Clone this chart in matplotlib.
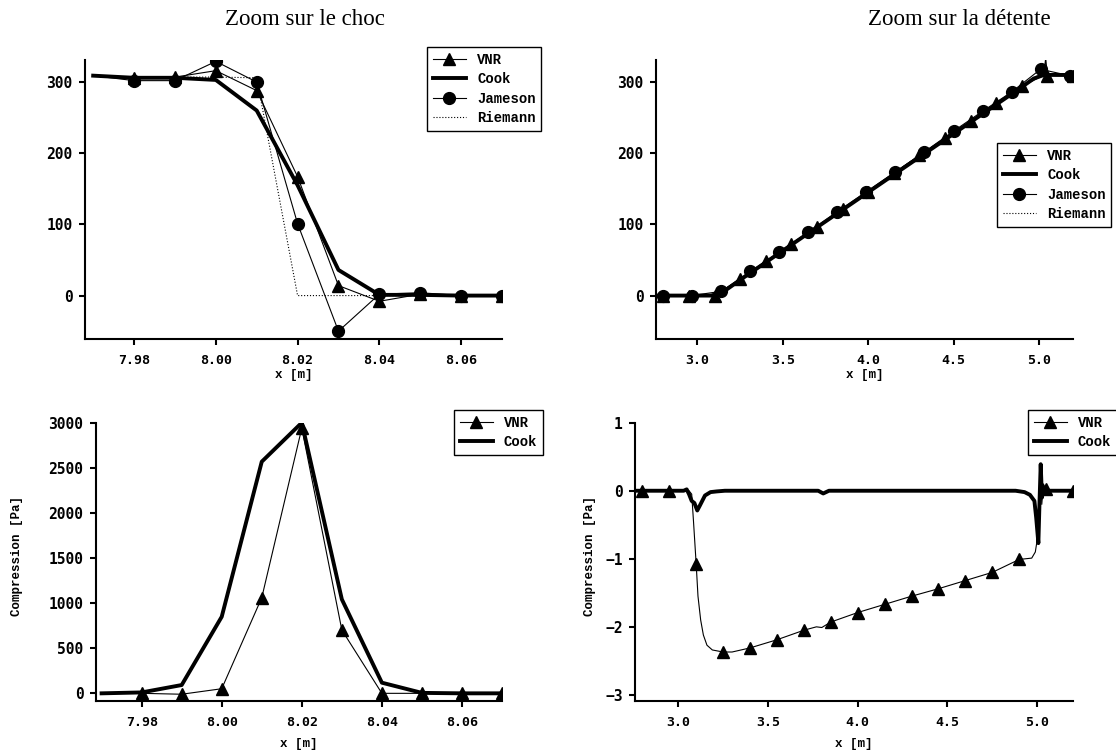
import matplotlib
matplotlib.use("Agg")
import matplotlib.pyplot as plt

# --- Zoom sur le choc : vitesse ---
x_choc = [7.97, 7.98, 7.99, 8.00, 8.01, 8.02, 8.03, 8.04, 8.05, 8.06, 8.07]
vnr_choc = [309, 306, 307, 316, 288, 167, 14, -8, 2, 0, 0]
cook_choc = [309, 306, 306, 303, 260, 155, 36, 1, 1, 0, 0]
jameson_choc = [309, 302, 302, 329, 300, 101, -50, 2, 4, 0, 0]
riemann_choc = [308, 307, 307, 307, 306, 0, 0, 0, 0, 0, 0]

# --- Zoom sur la detente : vitesse ---
x_vnr_det = [2.76, 2.80, 2.95, 3.10, 3.25, 3.40, 3.55, 3.70, 3.85, 4.00, 4.15, 4.30,
             4.45, 4.60, 4.75, 4.90, 5.00, 5.03, 5.04, 5.05, 5.07, 5.10, 5.20]
vnr_det = [0, 0, 0, 0, 23, 48, 73, 97, 121, 146, 172, 197,
           221, 245, 270, 294, 306, 312, 334, 308, 310, 309, 309]
vnr_det_marks = [1, 2, 3, 4, 5, 6, 7, 8, 9, 10, 11, 12, 13, 14, 15, 19, 22]
x_cook_det = [2.76, 3.08, 3.15, 3.25, 4.90, 4.97, 5.03, 5.20]
cook_det = [0, 0, 5, 22, 293, 305, 310, 310]
x_jam_det = [2.76, 2.80, 2.965, 3.14, 3.31, 3.48, 3.65, 3.82, 3.99, 4.16, 4.33,
             4.50, 4.67, 4.84, 5.01, 5.18, 5.20]
jameson_det = [0, 0, 0, 6, 34, 61, 89, 118, 146, 174, 202,
               231, 259, 286, 318, 309, 309]
x_riem_det = [2.76, 3.11, 5.00, 5.20]
riemann_det = [0, 0, 310, 310]

# --- Compression, choc ---
vnr_comp_choc = [0, 0, -10, 51, 1060, 2940, 702, 0, 0, 0, 0]
cook_comp_choc = [0, 10, 92, 849, 2568, 3000, 1042, 118, 5, 0, 0]

# --- Compression, detente ---
x_vnr_comp = [2.76, 2.80, 2.95, 3.06, 3.075, 3.085, 3.10, 3.11, 3.125, 3.14, 3.16, 3.19,
              3.25, 3.30, 3.40, 3.55, 3.70, 3.77, 3.80, 3.85, 4.00, 4.15, 4.30, 4.45,
              4.60, 4.75, 4.90, 4.97, 4.99, 5.00, 5.01, 5.018, 5.026, 5.035, 5.05, 5.08, 5.20]
vnr_comp = [0, 0, 0, 0, -0.05, -0.45, -1.08, -1.55, -1.90, -2.12, -2.27, -2.34,
            -2.37, -2.37, -2.31, -2.19, -2.05, -2.00, -2.01, -1.93, -1.79, -1.67, -1.55, -1.44,
            -1.32, -1.20, -1.01, -0.99, -0.90, -0.73, -0.30, 0.39, -0.20, 0.10, 0.02, 0, 0]
vnr_comp_marks = [1, 2, 6, 12, 14, 15, 16, 19, 20, 21, 22, 23, 24, 25, 26, 34, 36]
x_cook_comp = [2.76, 3.03, 3.047, 3.06, 3.075, 3.09, 3.106, 3.12, 3.149, 3.18, 3.214, 3.26,
               3.78, 3.808, 3.84, 4.88, 4.93, 4.96, 4.985, 4.995, 5.007, 5.013, 5.02,
               5.027, 5.035, 5.05, 5.20]
cook_comp = [0, 0, 0.02, -0.05, -0.15, -0.18, -0.29, -0.22, -0.07, -0.02, -0.01, 0,
             0, -0.04, 0, 0, -0.02, -0.06, -0.15, -0.40, -0.77, -0.20, 0.39,
             -0.10, 0.05, 0, 0]

mono = "Liberation Mono"
tickfont = "DejaVu Sans Mono"

fig = plt.figure(figsize=(11.16, 7.53), dpi=100)
W, H = 1116, 753


def make_ax(x0, y0, x1, y1):
    ax = fig.add_axes([x0 / W, 1 - y1 / H, (x1 - x0) / W, (y1 - y0) / H])
    for s in ["top", "right"]:
        ax.spines[s].set_visible(False)
    for s in ["left", "bottom"]:
        ax.spines[s].set_linewidth(1.5)
    ax.tick_params(direction="out", length=4, width=1.5)
    ax.tick_params(axis="x", pad=7)
    ax.tick_params(axis="y", pad=5)
    return ax


def style_ticks(ax):
    for lab in ax.get_xticklabels():
        lab.set_fontfamily(tickfont)
        lab.set_fontweight("bold")
        lab.set_fontsize(9.5)
    for lab in ax.get_yticklabels():
        lab.set_fontfamily(tickfont)
        lab.set_fontweight("bold")
        lab.set_fontsize(10.5)


def legend(ax, px, py):
    leg = ax.legend(loc="upper left", bbox_to_anchor=(px / W, 1 - py / H),
                    bbox_transform=fig.transFigure, fancybox=False, framealpha=1,
                    edgecolor="black", handlelength=2.4, borderpad=0.4,
                    labelspacing=0.4, handletextpad=0.8, borderaxespad=0,
                    prop={"family": mono, "weight": "bold", "size": 10})
    leg.get_frame().set_linewidth(1.0)
    return leg


thin = dict(color="black", lw=0.8)
thick = dict(color="black", lw=2.8)

# Haut gauche
ax1 = make_ax(85, 60, 502, 339)
ax1.plot(x_choc, vnr_choc, marker="^", ms=9, markevery=slice(1, None), label="VNR", **thin)
ax1.plot(x_choc, cook_choc, label="Cook", **thick)
ax1.plot(x_choc, jameson_choc, marker="o", ms=8.5, markevery=slice(1, None), label="Jameson", **thin)
ax1.plot(x_choc, riemann_choc, ls=":", label="Riemann", **thin)
ax1.set_xlim(7.968, 8.07)
ax1.set_ylim(-61, 331)
ax1.set_xticks([7.98, 8.00, 8.02, 8.04, 8.06])
ax1.set_xticklabels(["7.98", "8.00", "8.02", "8.04", "8.06"])
ax1.set_yticks([0, 100, 200, 300])
ax1.set_xlabel("x [m]", family=mono, weight="bold", size=9, labelpad=1)
style_ticks(ax1)
legend(ax1, 427, 47)

# Haut droite
ax2 = make_ax(656, 60, 1073, 339)
ax2.plot(x_vnr_det, vnr_det, marker="^", ms=9, markevery=vnr_det_marks, label="VNR", **thin)
ax2.plot(x_cook_det, cook_det, label="Cook", **thick)
ax2.plot(x_jam_det, jameson_det, marker="o", ms=8.5, markevery=list(range(1, 16)), label="Jameson", **thin)
ax2.plot(x_riem_det, riemann_det, ls=":", label="Riemann", **thin)
ax2.set_xlim(2.757, 5.2)
ax2.set_ylim(-61, 331)
ax2.set_xticks([3.0, 3.5, 4.0, 4.5, 5.0])
ax2.set_yticks([0, 100, 200, 300])
ax2.set_xlabel("x [m]", family=mono, weight="bold", size=9, labelpad=1)
style_ticks(ax2)
legend(ax2, 997, 143)

# Bas gauche
ax3 = make_ax(96, 422.7, 502, 701)
ax3.plot(x_choc, vnr_comp_choc, marker="^", ms=9, markevery=slice(1, None), label="VNR", **thin)
ax3.plot(x_choc, cook_comp_choc, label="Cook", **thick)
ax3.set_xlim(7.9686, 8.07)
ax3.set_ylim(-85, 3000)
ax3.set_xticks([7.98, 8.00, 8.02, 8.04, 8.06])
ax3.set_xticklabels(["7.98", "8.00", "8.02", "8.04", "8.06"])
ax3.set_yticks([0, 500, 1000, 1500, 2000, 2500, 3000])
ax3.set_xlabel("x [m]", family=mono, weight="bold", size=9, labelpad=6)
ax3.set_ylabel("Compression [Pa]", family=mono, weight="bold", size=9)
ax3.yaxis.set_label_coords(-0.18, 0.52)
style_ticks(ax3)
legend(ax3, 454, 410)

# Bas droite
ax4 = make_ax(635, 422.7, 1073, 701)
ax4.plot(x_vnr_comp, vnr_comp, marker="^", ms=9, markevery=vnr_comp_marks, label="VNR", **thin)
ax4.plot(x_cook_comp, cook_comp, label="Cook", **thick)
ax4.set_xlim(2.759, 5.2)
ax4.set_ylim(-3.09, 1.0)
ax4.set_xticks([3.0, 3.5, 4.0, 4.5, 5.0])
ax4.set_yticks([-3, -2, -1, 0, 1])
ax4.set_xlabel("x [m]", family=mono, weight="bold", size=9, labelpad=6)
ax4.set_ylabel("Compression [Pa]", family=mono, weight="bold", size=9)
ax4.yaxis.set_label_coords(-0.088, 0.52)
style_ticks(ax4)
legend(ax4, 1028, 410)

fig.text(305 / W, 1 - 25 / H, "Zoom sur le choc", ha="center", va="baseline",
         family="Liberation Serif", size=16.5)
fig.text(959 / W, 1 - 25 / H, "Zoom sur la détente", ha="center", va="baseline",
         family="Liberation Serif", size=16.5)

fig.savefig("out.png", dpi=100)
